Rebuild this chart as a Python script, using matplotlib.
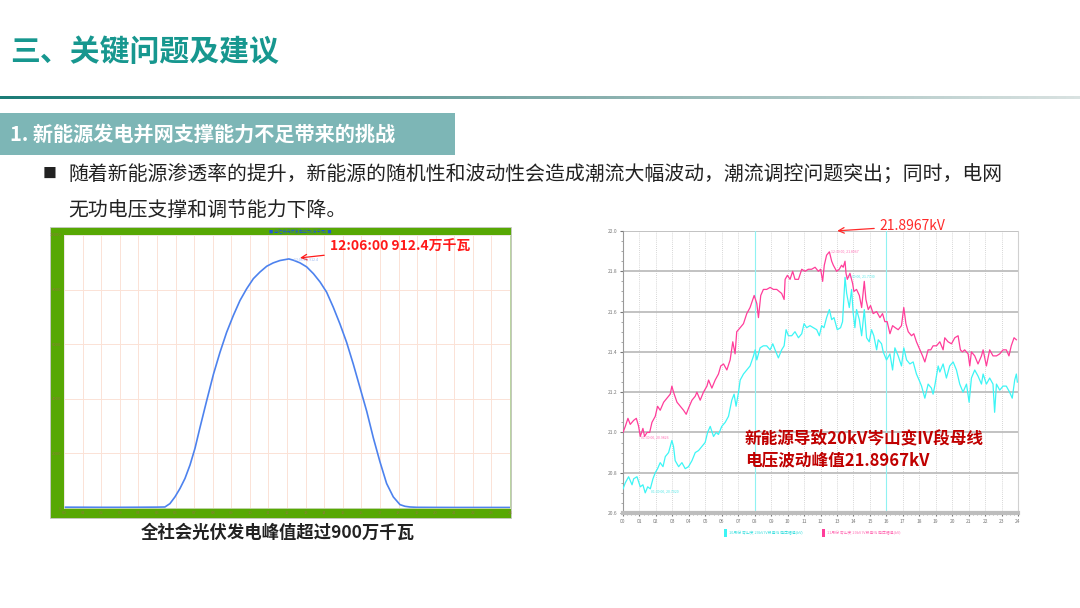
"""
Slide: new-energy grid support problems, PV output curve and 20kV bus voltage curve
"""
import matplotlib.pyplot as plt
from matplotlib.patches import Rectangle
from matplotlib.colors import LinearSegmentedColormap
from matplotlib.ticker import MultipleLocator
import numpy as np

plt.rcParams['font.family'] = ['Noto Sans CJK SC', 'DejaVu Sans']

W, H = 1080, 608

title = '三、关键问题及建议'
section = '1. 新能源发电并网支撑能力不足带来的挑战'
bullet_1 = '随着新能源渗透率的提升，新能源的随机性和波动性会造成潮流大幅波动，潮流调控问题突出；同时，电网'
bullet_2 = '无功电压支撑和调节能力下降。'
left_caption = '全社会光伏发电峰值超过900万千瓦'
left_note = '12:06:00 912.4万千瓦'
right_note = '21.8967kV'
right_box = '新能源导致20kV岑山变IV段母线\n电压波动峰值21.8967kV'

# PV output over the day (MW)
pv_hours = [0, 1, 2, 3, 4, 5, 5.43, 5.70, 5.97, 6.24, 6.51, 6.78, 7.05, 7.31, 7.67,
            8.04, 8.39, 8.75, 9.11, 9.47, 9.83, 10.19, 10.55, 10.91, 11.26, 11.62,
            12.10, 12.34, 12.70, 13.06, 13.42, 13.78, 14.13, 14.49, 14.85, 15.21,
            15.57, 15.93, 16.29, 16.65, 17.00, 17.36, 17.72, 18.08, 18.35, 18.62,
            19, 20, 21, 22, 23, 24]
pv_values = [30, 28, 25, 25, 28, 32, 37, 160, 406, 713, 1082, 1574, 2189, 2927, 3911,
             4895, 5695, 6433, 7048, 7601, 8032, 8401, 8647, 8856, 8979, 9065,
             9124, 9077, 8979, 8831, 8585, 8278, 7909, 7355, 6740, 6064,
             5264, 4403, 3542, 2558, 1697, 898, 406, 123, 62, 37,
             25, 22, 20, 20, 20, 20]

# bus voltage, pink series (kV)
pink_hours = [0.00, 0.14, 0.30, 0.44, 0.65, 0.81, 0.95, 1.05, 1.21, 1.31, 1.46, 1.62, 1.76,
              1.96, 2.10, 2.26, 2.47, 2.67, 2.87, 2.97, 3.07, 3.28, 3.48, 3.68, 3.84, 3.98,
              4.19, 4.39, 4.49, 4.69, 4.89, 5.10, 5.20, 5.40, 5.60, 5.80, 5.94, 6.11, 6.31,
              6.51, 6.67, 6.81, 6.91, 7.12, 7.32, 7.52, 7.72, 7.97, 8.13, 8.23, 8.37, 8.53,
              8.73, 8.94, 9.14, 9.34, 9.64, 9.79, 9.85, 9.99, 10.15, 10.31, 10.45, 10.66,
              10.86, 11.06, 11.26, 11.46, 11.67, 11.87, 12.01, 12.13, 12.23, 12.37, 12.54,
              12.68, 12.78, 12.98, 13.14, 13.28, 13.38, 13.49, 13.55, 13.63, 13.79, 13.95,
              14.03, 14.19, 14.36, 14.50, 14.66, 14.76, 14.90, 15.04, 15.20, 15.41, 15.61,
              15.77, 15.91, 16.05, 16.22, 16.38, 16.54, 16.72, 16.92, 17.06, 17.19, 17.33,
              17.53, 17.67, 17.83, 18.04, 18.20, 18.34, 18.54, 18.70, 18.84, 19.05, 19.25,
              19.45, 19.55, 19.75, 19.96, 20.16, 20.36, 20.50, 20.62, 20.76, 20.97, 21.07,
              21.17, 21.37, 21.57, 21.78, 21.88, 22.08, 22.28, 22.48, 22.69, 22.89, 23.09,
              23.29, 23.45, 23.59, 23.76, 23.90]
pink_kv = [21.00, 21.03, 21.07, 21.04, 21.06, 21.07, 21.03, 20.98, 21.02, 20.98, 21.00, 21.00, 21.05,
           21.08, 21.13, 21.11, 21.15, 21.17, 21.19, 21.23, 21.20, 21.15, 21.13, 21.11, 21.09, 21.12,
           21.16, 21.18, 21.20, 21.16, 21.20, 21.23, 21.26, 21.22, 21.26, 21.29, 21.33, 21.34, 21.31,
           21.36, 21.45, 21.39, 21.50, 21.52, 21.54, 21.59, 21.62, 21.68, 21.64, 21.57, 21.68, 21.71,
           21.71, 21.72, 21.71, 21.71, 21.69, 21.66, 21.76, 21.78, 21.76, 21.80, 21.76, 21.76,
           21.81, 21.80, 21.81, 21.81, 21.82, 21.80, 21.81, 21.75, 21.83, 21.88, 21.8967,
           21.85, 21.83, 21.80, 21.81, 21.83, 21.82, 21.85, 21.79, 21.76, 21.79, 21.74,
           21.70, 21.71, 21.68, 21.62, 21.75, 21.66, 21.61, 21.63, 21.59, 21.60, 21.57,
           21.59, 21.55, 21.55, 21.49, 21.53, 21.52, 21.51, 21.53, 21.62, 21.54, 21.50,
           21.48, 21.49, 21.45, 21.41, 21.38, 21.35, 21.41, 21.41, 21.43, 21.43, 21.45,
           21.41, 21.47, 21.45, 21.44, 21.47, 21.48, 21.41, 21.40, 21.41, 21.39, 21.33,
           21.40, 21.38, 21.34, 21.38, 21.41, 21.33, 21.41, 21.38, 21.38, 21.39, 21.41,
           21.41, 21.38, 21.43, 21.47, 21.46]

# bus voltage, cyan series (kV)
cyan_hours = [0.00, 0.14, 0.34, 0.55, 0.65, 0.85, 1.05, 1.21, 1.35, 1.50, 1.66, 1.82, 1.96,
              2.10, 2.26, 2.43, 2.57, 2.77, 2.97, 3.07, 3.17, 3.38, 3.58, 3.78, 3.98, 4.19,
              4.39, 4.59, 4.79, 4.99, 5.14, 5.30, 5.50, 5.66, 5.80, 6.00, 6.21, 6.41, 6.61,
              6.75, 6.87, 7.02, 7.12, 7.32, 7.52, 7.72, 7.93, 8.03, 8.13, 8.33, 8.53, 8.73,
              8.94, 9.10, 9.24, 9.44, 9.64, 9.79, 9.91, 10.05, 10.25, 10.45, 10.66, 10.86,
              11.00, 11.16, 11.36, 11.57, 11.77, 11.93, 12.07, 12.21, 12.37, 12.54, 12.68,
              12.82, 13.02, 13.22, 13.34, 13.49, 13.59, 13.75, 13.89, 13.99, 14.09, 14.19,
              14.36, 14.50, 14.66, 14.80, 14.96, 15.10, 15.24, 15.41, 15.51, 15.71, 15.81,
              16.01, 16.22, 16.38, 16.52, 16.72, 16.92, 17.06, 17.23, 17.43, 17.63, 17.83,
              17.99, 18.14, 18.34, 18.54, 18.74, 18.84, 18.94, 19.15, 19.25, 19.45, 19.65,
              19.85, 20.06, 20.26, 20.46, 20.66, 20.87, 21.03, 21.17, 21.37, 21.57, 21.78,
              21.88, 22.08, 22.28, 22.48, 22.58, 22.69, 22.89, 23.09, 23.29, 23.49, 23.65,
              23.80, 23.90, 23.96]
cyan_kv = [20.72, 20.75, 20.78, 20.74, 20.77, 20.78, 20.73, 20.74, 20.70, 20.73, 20.72, 20.77, 20.80,
           20.82, 20.85, 20.83, 20.88, 20.90, 20.96, 20.93, 20.86, 20.83, 20.85, 20.82, 20.83, 20.86,
           20.90, 20.91, 20.93, 20.95, 21.00, 21.03, 20.98, 21.00, 20.99, 21.03, 21.05, 21.08, 21.16,
           21.19, 21.13, 21.20, 21.26, 21.29, 21.31, 21.33, 21.38, 21.41, 21.36, 21.42, 21.43, 21.43,
           21.41, 21.44, 21.41, 21.37, 21.41, 21.43, 21.51, 21.48, 21.48, 21.50, 21.47, 21.49,
           21.54, 21.52, 21.53, 21.52, 21.51, 21.48, 21.53, 21.52, 21.57, 21.61, 21.56,
           21.57, 21.51, 21.52, 21.55, 21.77, 21.69, 21.62, 21.71, 21.59, 21.52, 21.61,
           21.56, 21.48, 21.61, 21.47, 21.45, 21.51, 21.48, 21.41, 21.46, 21.44, 21.40,
           21.36, 21.39, 21.31, 21.42, 21.38, 21.33, 21.42, 21.36, 21.34, 21.35, 21.29,
           21.26, 21.23, 21.17, 21.24, 21.22, 21.19, 21.23, 21.33, 21.30, 21.34, 21.27,
           21.33, 21.35, 21.31, 21.24, 21.20, 21.24, 21.15, 21.27, 21.31, 21.28, 21.24,
           21.29, 21.24, 21.27, 21.24, 21.10, 21.24, 21.21, 21.23, 21.23, 21.20, 21.17,
           21.26, 21.29, 21.25]

hour_labels = ['%02d' % h for h in range(25)]
pv_ticks = [0, 2000, 4000, 6000, 8000, 10000]
kv_ticks = [20.6, 20.8, 21.0, 21.2, 21.4, 21.6, 21.8, 22.0]


def fx(x):
    return x / W


def fy(y):
    return 1 - y / H


fig = plt.figure(figsize=(10.8, 6.08), dpi=100)

# ---- header ----
fig.text(fx(10), fy(52), title, fontsize=21.5, fontweight='bold', color='#17978F',
         ha='left', va='center')
gax = fig.add_axes([0, fy(99), 1, 3 / H])
grad = np.linspace(0, 1, 256).reshape(1, -1)
cmap = LinearSegmentedColormap.from_list('hdr', ['#1B7C77', '#7FAAA8', '#D9E2E1'])
gax.imshow(grad, aspect='auto', cmap=cmap)
gax.axis('off')

fig.patches.append(Rectangle((0, fy(155)), fx(455), 42 / H, transform=fig.transFigure,
                             facecolor='#7DB6B6', edgecolor='none', zorder=-5))
fig.text(fx(10), fy(134), section, fontsize=14.5, fontweight='bold', color='white',
         ha='left', va='center')
fig.text(fx(43), fy(174), '■', fontsize=10, color='#222222', ha='left', va='center')
fig.text(fx(68), fy(174), bullet_1, fontsize=14.3, color='#222222', ha='left', va='center')
fig.text(fx(68), fy(211), bullet_2, fontsize=14.3, color='#222222', ha='left', va='center')

# ---- left chart: PV output ----
fig.patches.append(Rectangle((fx(50), fy(518)), 461 / W, 291 / H, transform=fig.transFigure,
                             facecolor='#57A804', edgecolor='#C8C8C8', linewidth=0.6,
                             zorder=-5))
ax1 = fig.add_axes([fx(64), fy(508), 446 / W, 273 / H])
ax1.set_facecolor('white')
ax1.plot(pv_hours, pv_values, color='#4D82EE', linewidth=1.2)
ax1.set_xlim(0, 24)
ax1.set_ylim(0, 10000)
ax1.set_xticks(range(25))
ax1.set_xticklabels(hour_labels)
ax1.set_yticks(pv_ticks)
ax1.set_yticklabels([str(v) for v in pv_ticks])
ax1.tick_params(length=0, labelsize=3, colors='#8C7A3A', pad=2)
ax1.grid(True, color='#FBE2D6', linewidth=0.7)
for s in ax1.spines.values():
    s.set_color('#E8E8E8')
    s.set_linewidth(0.5)
ax1.annotate(left_note, xy=(12.55, 9150), xytext=(14.3, 9560),
             fontsize=10, fontweight='bold', color='#FF1A1A', ha='left', va='center',
             annotation_clip=False,
             arrowprops=dict(arrowstyle='->', color='#FF1A1A', lw=0.9))
ax1.text(12.4, 9124, '12:06:00, 912.4', fontsize=2.5, color='#9DB8F0', va='center')
fig.text(fx(300), fy(231), '■ 全社会光伏发电出力(万千瓦) ■', fontsize=3, color='#1F55D8',
         ha='center', va='center')
fig.text(fx(278), fy(533), left_caption, fontsize=12.5, fontweight='bold', color='#222222',
         ha='center', va='center')

# ---- right chart: bus voltage ----
ax2 = fig.add_axes([fx(623), fy(513), 395 / W, 282 / H])
ax2.set_facecolor('white')
for h in range(25):
    ax2.axvline(h, color='#C8C8C8', linewidth=0.6, linestyle=(0, (1, 1.5)), zorder=0)
for v in kv_ticks:
    ax2.axhline(v, color='#BDBDBD', linewidth=1.3, zorder=0)
ax2.axvline(8, color='#8FF2F2', linewidth=0.8, zorder=1)
ax2.axvline(16, color='#8FF2F2', linewidth=0.8, zorder=1)
ax2.plot(cyan_hours, cyan_kv, color='#3DF5F5', linewidth=0.9, zorder=3)
ax2.plot(pink_hours, pink_kv, color='#FF3D9A', linewidth=0.9, zorder=4)
ax2.set_xlim(0, 24)
ax2.set_ylim(20.6, 22.0)
ax2.set_xticks(range(25))
ax2.set_xticklabels(hour_labels)
ax2.set_yticks(kv_ticks)
ax2.set_yticklabels(['%.1f' % v for v in kv_ticks])
ax2.yaxis.set_minor_locator(MultipleLocator(0.05))
ax2.xaxis.set_minor_locator(MultipleLocator(0.25))
ax2.tick_params(which='major', length=2, labelsize=3.5, colors='#777777', pad=2)
ax2.tick_params(which='minor', length=1.2, color='#999999')
ax2.spines['top'].set_visible(False)
ax2.spines['right'].set_color('#D0D0D0')
ax2.spines['left'].set_color('#999999')
ax2.spines['left'].set_linewidth(0.8)
ax2.spines['bottom'].set_color('#BDBDBD')
ax2.spines['bottom'].set_linewidth(3)
ax2.text(12.65, 21.8967, '12:30:00, 21.8967', fontsize=2.5, color='#FF6FB5', va='center')
ax2.text(13.6, 21.775, '13:30:00, 21.7730', fontsize=2.5, color='#4FE8E8', va='center')
ax2.text(1.1, 20.975, '01:30:00, 20.9826', fontsize=2.5, color='#FF6FB5', va='center')
ax2.text(1.7, 20.71, '01:30:00, 20.7020', fontsize=2.5, color='#4FE8E8', va='center')
ax2.annotate(right_note, xy=(12.85, 22.0), xytext=(15.6, 22.025),
             fontsize=10, color='#FF2A2A', ha='left', va='center', annotation_clip=False,
             arrowprops=dict(arrowstyle='->', color='#FF2A2A', lw=0.9))
ax2.text(7.4, 20.913, right_box, fontsize=12, fontweight='bold', color='#C00000',
         ha='left', va='center', linespacing=1.15, zorder=6)

fig.patches.append(Rectangle((fx(724), fy(537)), 3 / W, 8 / H, transform=fig.transFigure,
                             facecolor='#3DF5F5', edgecolor='none'))
fig.text(fx(729), fy(533), '10月份 岑山变 20kV IV段母线 电压幅值(kV)', fontsize=2.8,
         color='#3DE0E0', ha='left', va='center')
fig.patches.append(Rectangle((fx(822), fy(537)), 3 / W, 8 / H, transform=fig.transFigure,
                             facecolor='#FF3D9A', edgecolor='none'))
fig.text(fx(827), fy(533), '11月份 岑山变 20kV IV段母线 电压幅值(kV)', fontsize=2.8,
         color='#FF6FB5', ha='left', va='center')

plt.savefig('out.png', dpi=100)
plt.close(fig)
